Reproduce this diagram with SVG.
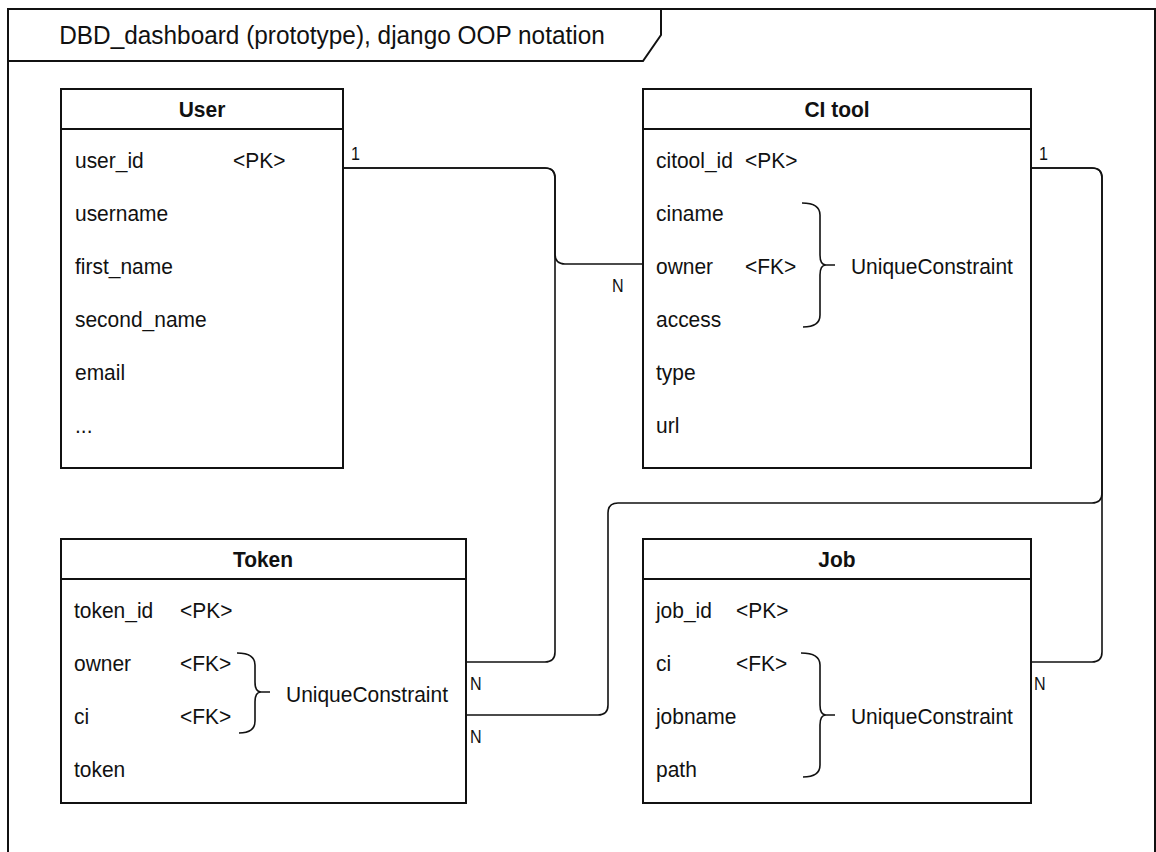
<svg xmlns="http://www.w3.org/2000/svg" width="1156" height="852" viewBox="0 0 1156 852">
<style>
text{font-family:"Liberation Sans",Arial,sans-serif;fill:#111;dominant-baseline:central;transform-box:fill-box;transform-origin:0 50%;transform:scaleX(0.92)}
.f{font-size:22.8px}
.h{font-size:22.8px;font-weight:bold;text-anchor:middle;transform-origin:50% 50%}
.lbl{font-size:17.5px}
.t{font-size:26.5px;text-anchor:middle;transform-origin:50% 50%}
.box{fill:#fff;stroke:#111;stroke-width:2}
.ln{fill:none;stroke:#111;stroke-width:2}
.c{fill:none;stroke:#111;stroke-width:1.6}
</style>
<rect width="1156" height="852" fill="#fff"/>
<g id="frame">
<rect x="8" y="9" width="1147" height="900" class="ln"/>
<path d="M8,61 H643 L661,35 V9" class="ln"/>
<text x="332" y="35" class="t">DBD_dashboard (prototype), django OOP notation</text>
</g>
<g id="connectors">
<path class="c" d="M343,168 H545 Q555,168 555,178 V254 Q555,264 565,264 H643"/>
<path class="c" d="M466,662 H545 Q555,662 555,652 V178 Q555,168 545,168 H343"/>
<path class="c" d="M1031,168 H1092 Q1102,168 1102,178 V652 Q1102,662 1092,662 H1031"/>
<path class="c" d="M466,715 H598 Q608,715 608,705 V513 Q608,503 618,503 H1092 Q1102,503 1102,493 V178 Q1102,168 1092,168 H1031"/>
<text class="lbl" x="351" y="154">1</text>
<text class="lbl" x="612" y="286">N</text>
<text class="lbl" x="470" y="684">N</text>
<text class="lbl" x="470" y="737">N</text>
<text class="lbl" x="1039" y="154">1</text>
<text class="lbl" x="1034" y="684">N</text>
</g>
<g id="user">
<rect x="61" y="89" width="282" height="379" class="box"/>
<line x1="61" y1="129" x2="343" y2="129" class="ln"/>
<text class="h" x="202" y="109">User</text>
<text class="f" x="75" y="160">user_id</text>
<text class="f" x="233" y="160">&lt;PK&gt;</text>
<text class="f" x="75" y="213">username</text>
<text class="f" x="75" y="266">first_name</text>
<text class="f" x="75" y="319">second_name</text>
<text class="f" x="75" y="372">email</text>
<text class="f" x="75" y="425">...</text>
</g>
<g id="citool">
<rect x="643" y="89" width="388" height="379" class="box"/>
<line x1="643" y1="129" x2="1031" y2="129" class="ln"/>
<text class="h" x="837" y="109">CI tool</text>
<text class="f" x="656" y="160">citool_id</text>
<text class="f" x="745" y="160">&lt;PK&gt;</text>
<text class="f" x="656" y="213">ciname</text>
<text class="f" x="656" y="266">owner</text>
<text class="f" x="745" y="266">&lt;FK&gt;</text>
<text class="f" x="656" y="319">access</text>
<text class="f" x="656" y="372">type</text>
<text class="f" x="656" y="425">url</text>
<path class="c" d="M802,203 Q820,203 820,215 V255 Q820,265 826,265 H835 M826,265 Q820,265 820,275 V315 Q820,327 803,327"/>
<text class="f" x="851" y="266">UniqueConstraint</text>
</g>
<g id="token">
<rect x="61" y="539" width="405" height="264" class="box"/>
<line x1="61" y1="579" x2="466" y2="579" class="ln"/>
<text class="h" x="263" y="559">Token</text>
<text class="f" x="74" y="610">token_id</text>
<text class="f" x="180" y="610">&lt;PK&gt;</text>
<text class="f" x="74" y="663">owner</text>
<text class="f" x="180" y="663">&lt;FK&gt;</text>
<text class="f" x="74" y="716">ci</text>
<text class="f" x="180" y="716">&lt;FK&gt;</text>
<text class="f" x="74" y="769">token</text>
<path class="c" d="M237,653 Q255,653 255,665 V682 Q255,692 261,692 H270 M261,692 Q255,692 255,702 V721 Q255,733 239,733"/>
<text class="f" x="286" y="694">UniqueConstraint</text>
</g>
<g id="job">
<rect x="643" y="539" width="388" height="264" class="box"/>
<line x1="643" y1="579" x2="1031" y2="579" class="ln"/>
<text class="h" x="837" y="559">Job</text>
<text class="f" x="656" y="610">job_id</text>
<text class="f" x="736" y="610">&lt;PK&gt;</text>
<text class="f" x="656" y="663">ci</text>
<text class="f" x="736" y="663">&lt;FK&gt;</text>
<text class="f" x="656" y="716">jobname</text>
<text class="f" x="656" y="769">path</text>
<path class="c" d="M801,653 Q820,653 820,665 V705 Q820,715 826,715 H835 M826,715 Q820,715 820,725 V765 Q820,777 803,777"/>
<text class="f" x="851" y="716">UniqueConstraint</text>
</g>
</svg>
